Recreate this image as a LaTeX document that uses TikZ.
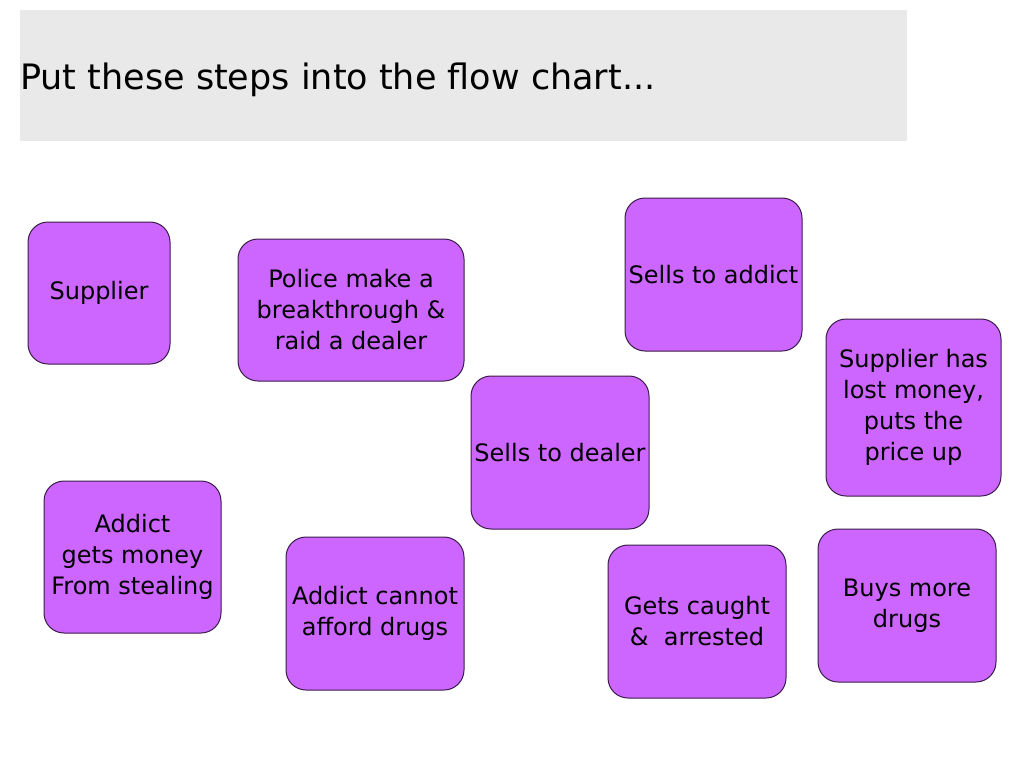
\documentclass[tikz,border=0pt]{standalone}
\usepackage{fontspec}
\setmainfont{DejaVu Sans}
\usepackage{xcolor}
\definecolor{cardfill}{RGB}{204, 102, 255}
\definecolor{cardedge}{RGB}{58, 28, 72}
\definecolor{band}{RGB}{233, 233, 233}
\usepackage{tikz}

\begin{document}
\begin{tikzpicture}[x=1pt, y=-1pt,
    card/.style={draw=cardedge, line width=1pt, fill=cardfill, rounded corners=20pt,
      align=center, inner sep=0pt, font=\fontsize{24}{31}\selectfont}]
    \useasboundingbox (0,0) rectangle (1024,768);

    % Title band
    \fill[band] (20,10) rectangle (907,141);
    \node[anchor=west, inner sep=0pt, font=\fontsize{35}{40}\selectfont] (title) at (20,80) {Put these steps into the flow chart...};

    % Top row
    \node[card, minimum width=142, minimum height=142] (supplier) at (99,293) {Supplier};
    \node[card, minimum width=226, minimum height=142] (police) at (351,310) {Police make a\\breakthrough \&\\raid a dealer};
    \node[card, minimum width=177, minimum height=153] (addict) at (713.5,274.5) {Sells to addict};

    % Middle
    \node[card, minimum width=175, minimum height=177] (price) at (913.5,407.5) {Supplier has\\lost money,\\puts the\\price up};
    \node[card, minimum width=178, minimum height=153] (dealer) at (560,452.5) {Sells to dealer};

    % Bottom row
    \node[card, minimum width=177, minimum height=152] (stealing) at (132.5,557) {Addict\\gets money\\From stealing};
    \node[card, minimum width=178, minimum height=153] (afford) at (375,613.5) {Addict cannot\\afford drugs};
    \node[card, minimum width=178, minimum height=153] (caught) at (697,621.5) {Gets caught\\\&~~arrested};
    \node[card, minimum width=178, minimum height=153] (buys) at (907,605.5) {Buys more\\drugs};
\end{tikzpicture}
\end{document}
